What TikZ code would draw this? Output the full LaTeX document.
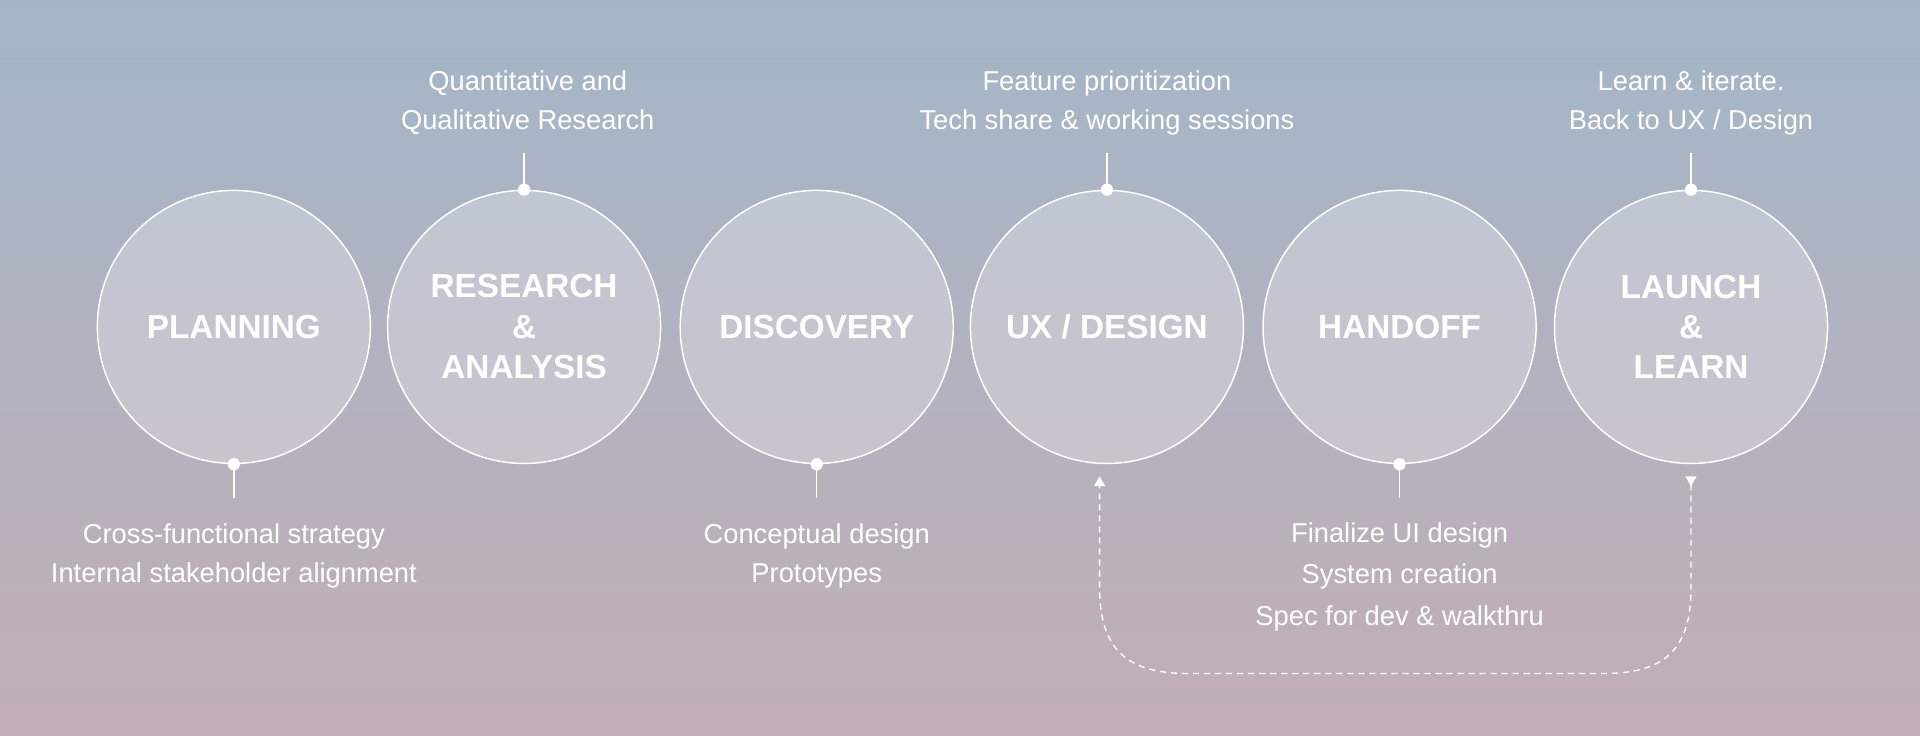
\documentclass[tikz,border=0pt]{standalone}
\usepackage{fontspec}
\setmainfont{Liberation Sans}
\usetikzlibrary{arrows.meta}
\definecolor{bgtop}{HTML}{A3B6C8}
\definecolor{bgbot}{HTML}{C2AEB6}
\tikzset{
  stage/.style={circle,draw=white,line width=1.2pt,fill=white,fill opacity=0.25,text opacity=1,minimum size=223pt,inner sep=0pt,text=white,font=\fontsize{27.2}{33}\selectfont\bfseries,align=center},
  lbl/.style={text=white,font=\fontsize{22.3}{32}\selectfont,align=center},
  dot/.style={circle,fill=white,inner sep=0pt,minimum size=10pt},
  tick/.style={draw=white,line width=1.2pt}
}
\begin{document}
\begin{tikzpicture}[x=1pt,y=-1pt]
\shade[top color=bgtop,bottom color=bgbot] (0,0) rectangle (1568,601);
\useasboundingbox (0,0) rectangle (1568,601);
\node[stage] (plan) at (191,267) {PLANNING};
\node[stage] (res) at (428,267) {RESEARCH\\\&\\ANALYSIS};
\node[stage] (disc) at (667,267) {DISCOVERY};
\node[stage] (ux) at (904,267) {UX / DESIGN};
\node[stage] (hand) at (1143,267) {HANDOFF};
\node[stage] (launch) at (1381,267) {LAUNCH\\\&\\LEARN};
% dots and ticks
\node[dot] (d1) at (plan.south) {}; \coordinate (e1) at (191,407);
\node[dot] (d2) at (res.north) {}; \coordinate (e2) at (428,125);
\node[dot] (d3) at (disc.south) {}; \coordinate (e3) at (667,407);
\node[dot] (d4) at (ux.north) {}; \coordinate (e4) at (904,125);
\node[dot] (d5) at (hand.south) {}; \coordinate (e5) at (1143,407);
\node[dot] (d6) at (launch.north) {}; \coordinate (e6) at (1381,125);
\foreach \i in {1,...,6} \draw[tick] (d\i.center) -- (e\i);
% labels
\node[lbl] (t2) at (431,84) {Quantitative and\\Qualitative Research};
\node[lbl] (t4) at (904,84) {Feature prioritization\\Tech share \& working sessions};
\node[lbl] (t6) at (1381,84) {Learn \& iterate.\\Back to UX / Design};
\node[lbl] (t1) at (191,454) {Cross-functional strategy\\Internal stakeholder alignment};
\node[lbl] (t3) at (667,454) {Conceptual design\\Prototypes};
\node[lbl,font=\fontsize{22.3}{34}\selectfont] (t5) at (1143,471) {Finalize UI design\\System creation\\Spec for dev \& walkthru};
% loop back arrow
\coordinate (a1) at (1381,389);
\coordinate (a2) at (898,389);
\draw[white,line width=1.1pt,dash pattern=on 5pt off 4pt,{Triangle[reversed,length=8pt,width=9pt]}-{Triangle[length=8pt,width=9pt]}]
  (a1) -- (1381,480) .. controls (1381,530) and (1360,550) .. (1310,550)
  -- (970,550) .. controls (920,550) and (898,530) .. (898,480) -- (a2);
\end{tikzpicture}
\end{document}
